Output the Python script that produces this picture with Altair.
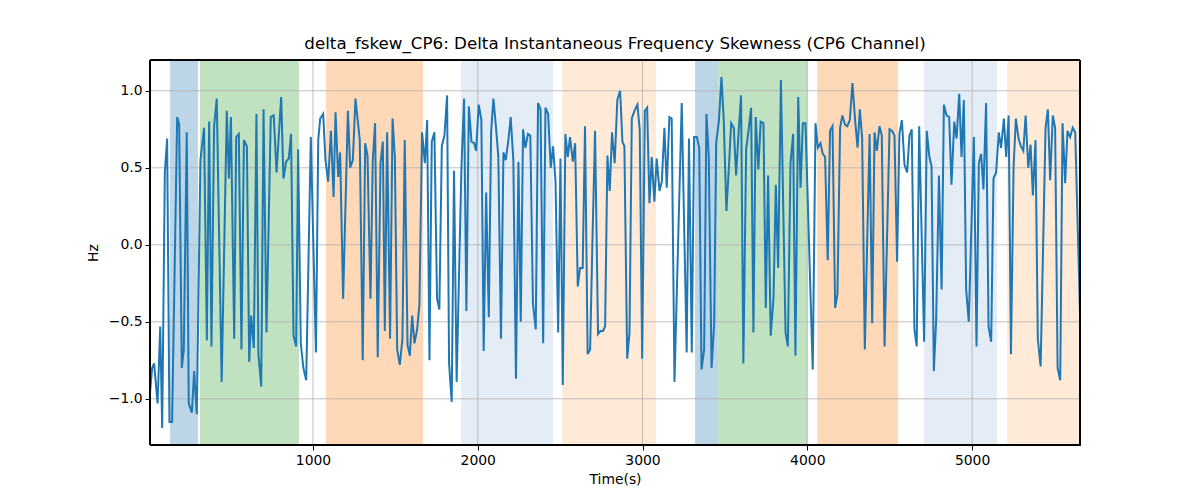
import altair as alt
import pandas as pd

times = [11, 24, 36, 57, 73, 85, 101, 115, 129, 145, 176, 188, 204, 216, 234, 246, 265, 279, 295,
         317, 339, 356, 370, 384, 400, 416, 446, 477, 490, 502, 522, 534, 550, 566, 581, 599, 613,
         625, 641, 657, 669, 686, 700, 718, 744, 762, 779, 807, 821, 837, 853, 867, 882, 898, 910,
         926, 942, 959, 987, 1018, 1032, 1044, 1062, 1076, 1092, 1109, 1125, 1137, 1153, 1165, 1183,
         1212, 1226, 1242, 1258, 1284, 1302, 1317, 1331, 1349, 1363, 1377, 1393, 1410, 1424, 1436,
         1450, 1468, 1483, 1497, 1511, 1527, 1543, 1557, 1574, 1588, 1602, 1616, 1632, 1646, 1662,
         1679, 1693, 1707, 1721, 1737, 1753, 1767, 1782, 1798, 1814, 1826, 1842, 1856, 1872, 1901,
         1917, 1931, 1946, 1962, 1978, 1990, 2006, 2022, 2036, 2051, 2067, 2081, 2095, 2111, 2125,
         2141, 2156, 2170, 2186, 2200, 2216, 2232, 2247, 2261, 2275, 2289, 2305, 2319, 2335, 2352,
         2366, 2381, 2397, 2411, 2427, 2443, 2457, 2472, 2488, 2502, 2516, 2532, 2546, 2560, 2577,
         2591, 2607, 2621, 2637, 2651, 2667, 2682, 2696, 2712, 2730, 2744, 2760, 2773, 2787, 2801,
         2815, 2831, 2847, 2864, 2878, 2890, 2907, 2921, 2935, 2951, 2969, 2983, 2998, 3014, 3028,
         3042, 3056, 3072, 3086, 3103, 3117, 3133, 3147, 3163, 3177, 3194, 3238, 3268, 3282, 3299,
         3313, 3330, 3344, 3358, 3374, 3388, 3402, 3419, 3435, 3447, 3463, 3479, 3493, 3509, 3524,
         3538, 3554, 3568, 3582, 3598, 3612, 3629, 3643, 3659, 3673, 3687, 3703, 3717, 3734, 3748,
         3762, 3778, 3795, 3809, 3823, 3840, 3868, 3882, 3898, 3914, 3928, 3945, 3959, 3973, 3989,
         4033, 4050, 4064, 4080, 4094, 4108, 4124, 4138, 4153, 4169, 4183, 4199, 4213, 4229, 4243,
         4258, 4274, 4291, 4305, 4319, 4333, 4349, 4378, 4394, 4408, 4422, 4438, 4452, 4469, 4499,
         4515, 4529, 4545, 4559, 4574, 4590, 4606, 4620, 4634, 4650, 4664, 4679, 4709, 4725, 4741,
         4754, 4768, 4782, 4799, 4815, 4829, 4845, 4861, 4875, 4892, 4906, 4922, 4936, 4950, 4964,
         4980, 5011, 5027, 5041, 5055, 5069, 5085, 5100, 5116, 5130, 5146, 5162, 5176, 5193, 5207,
         5222, 5236, 5252, 5266, 5282, 5296, 5311, 5325, 5341, 5355, 5369, 5385, 5399, 5416, 5446,
         5460, 5474, 5490, 5504, 5519, 5535, 5549, 5565, 5579, 5595, 5611, 5626, 5655]

values = [-0.96, -0.80, -0.77, -1.03, -0.53, -1.19, 0.47, 0.69, -1.15, -1.15, 0.83, 0.78, -0.80, -0.68, 0.73, -1.03, -1.09, -0.82, -1.10,
          0.55, 0.76, -0.62, 0.80, -0.66, 0.77, 0.95, -0.89, 0.87, 0.43, 0.83, -0.61, 0.70, 0.72, -0.68, 0.68, 0.64, -0.76,
          -0.46, -0.67, 0.85, -0.71, -0.92, 0.88, -0.57, 0.83, 0.84, 0.47, 0.96, 0.43, 0.54, 0.56, 0.72, -0.59, -0.66, 0.62,
          -0.64, -0.80, -0.88, 0.70, -0.70, 0.68, 0.82, 0.85, 0.55, 0.41, 0.74, 0.31, 0.86, 0.44, 0.60, -0.35,
          0.87, 0.50, 0.55, 0.95, 0.68, -0.75, 0.66, 0.58, -0.35, 0.55, 0.79, -0.73, 0.53, 0.67, -0.56,
          0.73, -0.61, 0.82, 0.57, -0.68, -0.78, -0.61, 0.68, -0.65, -0.72, -0.46, -0.64, -0.55, -0.39, 0.73,
          0.53, 0.81, -0.75, 0.67, 0.73, -0.35, -0.42, 0.64, 0.71, 0.97, -0.77, -1.02, 0.48, -0.89, 0.50,
          0.95, -0.43, 0.90, 0.67, 0.66, 0.61, 0.91, 0.81, -0.69, 0.34, -0.47, 0.73, 0.95, 0.76, 0.57,
          -0.61, 0.60, 0.55, 0.68, 0.83, 0.55, -0.87, 0.54, -0.50, 0.75, 0.63, 0.72, 0.71, -0.38, -0.55,
          0.92, 0.88, -0.64, 0.89, 0.85, 0.50, 0.64, 0.41, -0.57, 0.56, -0.91, 0.72, 0.57, 0.70, 0.54,
          0.66, -0.27, -0.15, -0.15, 0.77, -0.71, -0.68, 0.02, 0.74, -0.58, -0.56, -0.56, -0.53, 0.58, 0.35,
          0.73, 0.53, 0.94, 1.00, 0.67, 0.64, -0.74, -0.57, 0.82, 0.87, 0.91, 0.75, -0.74, 0.87, 0.89,
          0.27, 0.57, 0.28, 0.56, 0.35, 0.41, 0.76, 0.37, 0.83, 0.82, -0.89, 0.92, -0.70, 0.69, -0.70,
          0.70, 0.70, 0.63, -0.81, -0.68, 0.85, 0.57, -0.80, -0.51, 0.66, 0.80, 1.09, 0.81, 0.22, 0.50,
          0.79, 0.76, 0.45, 0.71, 0.97, -0.77, 0.62, 0.74, 0.89, -0.57, 0.83, 0.49, 0.80, 0.79, -0.41,
          0.45, -0.59, -0.34, 0.39, -0.15, 1.07, -0.57, -0.66, 0.53, 0.72, -0.72, 0.96, 0.37, 0.79, 0.79,
          -0.81, 0.79, 0.63, 0.66, 0.59, 0.57, -0.10, 0.74, 0.77, -0.41, -0.32, 0.76, 0.84, 0.78, 0.77,
          0.81, 1.05, 0.80, 0.63, 0.88, 0.69, -0.68, 0.72, -0.51, 0.73, 0.61, 0.77, 0.71, -0.66, 0.75,
          0.74, 0.71, -0.11, 0.72, 0.81, 0.52, 0.47, 0.71, 0.75, -0.55, -0.66, 0.77, -0.63, 0.74, 0.57,
          0.51, -0.82, -0.49, 0.45, -0.29, 0.91, 0.84, 0.83, 0.39, 0.80, 0.69, 0.98, 0.57, 0.94, -0.29,
          -0.50, 0.70, -0.66, 0.53, 0.59, 0.36, 0.92, -0.53, -0.63, 0.43, 0.47, 0.73, 0.63, 0.82, 0.57,
          0.84, -0.71, 0.51, 0.82, 0.69, 0.64, 0.61, 0.84, 0.50, 0.65, 0.32, 0.68, -0.61, -0.79, 0.76,
          0.88, 0.42, 0.84, 0.76, -0.80, -0.88, 0.79, 0.40, 0.74, 0.70, 0.76, 0.73, -0.44]

band_start = [132, 314, 1079, 1899, 2512, 3319, 3459, 4060, 4709, 5213]
band_end = [302, 915, 1668, 2457, 3082, 3459, 3999, 4551, 5152, 5655]
band_kind = ["blue", "green", "orange", "blue light", "orange light",
             "blue", "green", "orange", "blue light", "orange light"]

x_ticks = [1000, 2000, 3000, 4000, 5000]
y_ticks = [-1.0, -0.5, 0.0, 0.5, 1.0]

line_df = pd.DataFrame({"t": times, "v": values})
band_df = pd.DataFrame({"start": band_start, "end": band_end, "kind": band_kind})
xg_df = pd.DataFrame({"x": x_ticks})
yg_df = pd.DataFrame({"y": y_ticks})

W, H = 930, 385
xscale = alt.Scale(domain=[11, 5655], nice=False, zero=False)
yscale = alt.Scale(domain=[-1.3, 1.2], nice=False, zero=False)

font = "DejaVu Sans"

bands = alt.Chart(band_df).mark_rect().encode(
    x=alt.X("start:Q", scale=xscale,
            axis=alt.Axis(values=x_ticks, format="d", title="Time(s)", grid=False,
                          tickSize=5, labelPadding=3, titlePadding=6)),
    x2="end:Q",
    color=alt.Color("kind:N", legend=None, scale=alt.Scale(
        domain=["blue", "green", "orange", "blue light", "orange light"],
        range=["#bcd6e8", "#c0e2c0", "#ffd8b7", "#e4ecf6", "#ffead8"])),
)

xgrid = alt.Chart(xg_df).mark_rule(color="#b0b0b0", strokeWidth=0.8).encode(
    x=alt.X("x:Q", scale=xscale))
ygrid = alt.Chart(yg_df).mark_rule(color="#b0b0b0", strokeWidth=0.8).encode(
    y=alt.Y("y:Q", scale=yscale))

line = alt.Chart(line_df).mark_line(color="#1f77b4", strokeWidth=2, clip=True).encode(
    x=alt.X("t:Q", scale=xscale),
    y=alt.Y("v:Q", scale=yscale,
            axis=alt.Axis(values=y_ticks, format=".1f", title="Hz", grid=False,
                          tickSize=5, labelPadding=3, titlePadding=8)),
)

frame = alt.Chart(yg_df).mark_rect(fillOpacity=0, stroke="black", strokeWidth=1).encode(
    x=alt.value(0), x2=alt.value(W), y=alt.value(0), y2=alt.value(H))

chart = alt.layer(bands, xgrid, ygrid, line, frame).properties(
    width=W, height=H,
    title=alt.TitleParams("delta_fskew_CP6: Delta Instantaneous Frequency Skewness (CP6 Channel)",
                          font=font, fontSize=16.7, fontWeight="normal", color="black",
                          anchor="middle", offset=7),
    autosize=alt.AutoSizeParams(type="none"),
    padding={"left": 142, "top": 52, "right": 112, "bottom": 47},
).configure_view(stroke="black", strokeWidth=1).configure_axis(
    labelFont=font, titleFont=font, labelFontSize=13.9, titleFontSize=13.9,
    titleFontWeight="normal", labelColor="black", titleColor="black",
    tickColor="black", domainColor="black", domainWidth=1, tickWidth=1,
)

chart.save("out.html", embed_options={"renderer": "svg", "actions": False})
